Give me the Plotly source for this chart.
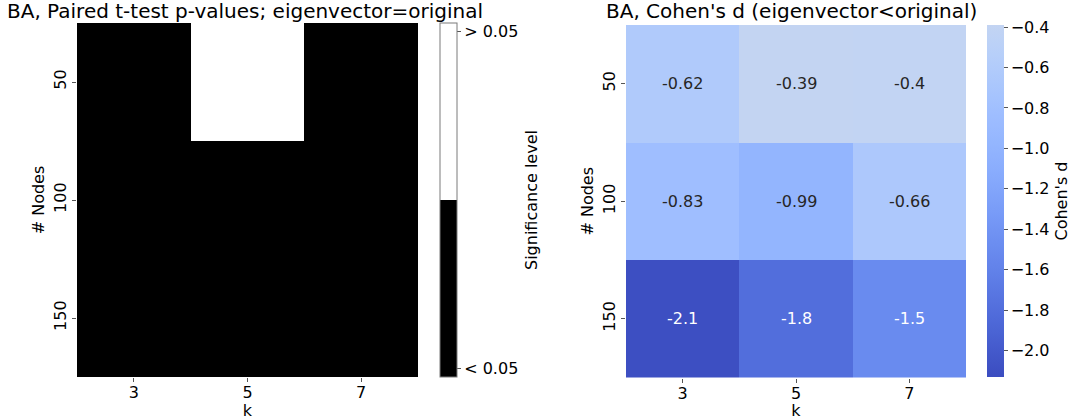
import numpy as np
import plotly.graph_objects as go

# ---- data -------------------------------------------------------------
k_values = ["3", "5", "7"]
node_counts = ["50", "100", "150"]

# paired t-test: True where p < 0.05 (eigenvector vs original)
significant = [
    [True, False, True],
    [True, True, True],
    [True, True, True],
]

# Cohen's d (eigenvector < original)
cohens_d = [
    [-0.62, -0.39, -0.40],
    [-0.83, -0.99, -0.66],
    [-2.10, -1.80, -1.50],
]
d_range = (-2.13, -0.39)
d_ticks = [-0.4, -0.6, -0.8, -1.0, -1.2, -1.4, -1.6, -1.8, -2.0]

sig_tick_labels = ["< 0.05", "> 0.05"]

# ---- styling ------------------------------------------------------------
W, H = 1075, 420
FONT = "DejaVu Sans"
TXT = "#000000"

# coolwarm (lower half) anchors
cw_pos = [0.0, 0.0625, 0.125, 0.1875, 0.25, 0.3125, 0.375, 0.4375, 0.5]
cw_rgb = np.array([
    (59, 76, 192), (77, 104, 215), (98, 130, 234), (119, 154, 247),
    (141, 176, 254), (161, 192, 255), (183, 207, 249), (205, 217, 236),
    (221, 221, 221),
], dtype=float)


def coolwarm(t):
    return np.array([np.interp(t, cw_pos, cw_rgb[:, i]) for i in range(3)])


# centred at 0: map values onto coolwarm symmetric around 0
vr = max(abs(d_range[0]), abs(d_range[1]))


def d_to_t(v):
    return (v + vr) / (2 * vr)


t_lo, t_hi = d_to_t(d_range[0]), d_to_t(d_range[1])
n = 24
d_scale = []
for i in range(n + 1):
    f = i / n
    c = coolwarm(t_lo + f * (t_hi - t_lo))
    d_scale.append([f, "rgb(%d,%d,%d)" % tuple(np.round(c))])


def text_color(v):
    c = coolwarm(d_to_t(v)) / 255.0
    lin = np.where(c <= 0.03928, c / 12.92, ((c + 0.055) / 1.055) ** 2.4)
    lum = 0.2126 * lin[0] + 0.7152 * lin[1] + 0.0722 * lin[2]
    return "#262626" if lum > 0.408 else "#ffffff"


def px_x(p):
    return p / W


def px_y(p):
    return 1 - p / H


fig = go.Figure()

# left: significance map
sig_z = [[0 if s else 1 for s in row] for row in significant]
fig.add_trace(go.Heatmap(
    x=k_values, y=node_counts, z=sig_z, xaxis="x", yaxis="y",
    zmin=0, zmax=1,
    colorscale=[[0, "#000000"], [0.5, "#000000"], [0.5, "#ffffff"], [1, "#ffffff"]],
    hoverinfo="skip",
    colorbar=dict(
        x=px_x(440), xanchor="left", xpad=0,
        y=px_y(200), yanchor="middle", ypad=0,
        len=(377 - 23) / H, lenmode="fraction",
        thickness=17, thicknessmode="pixels",
        outlinewidth=1, outlinecolor="#7a7a7a",
        tickvals=[0.025, 0.975], ticktext=sig_tick_labels,
        ticks="outside", ticklen=4, tickcolor="#555555",
        tickfont=dict(family=FONT, size=16, color=TXT),
    ),
))

# right: effect size map
fig.add_trace(go.Heatmap(
    x=k_values, y=node_counts, z=cohens_d, xaxis="x2", yaxis="y2",
    zmin=d_range[0], zmax=d_range[1], colorscale=d_scale,
    hoverinfo="skip",
    colorbar=dict(
        x=px_x(987), xanchor="left", xpad=0,
        y=px_y(201), yanchor="middle", ypad=0,
        len=(377 - 25) / H, lenmode="fraction",
        thickness=17, thicknessmode="pixels",
        outlinewidth=0,
        tickvals=d_ticks, tickformat=".1f",
        ticks="outside", ticklen=4, tickcolor="#555555",
        tickfont=dict(family=FONT, size=16, color=TXT),
        title=dict(text="Cohen's d", side="right",
                   font=dict(family=FONT, size=16, color=TXT)),
    ),
))

# value labels, placed by category index on the right-hand axes
annotations = []
for r in range(len(node_counts)):
    for c in range(len(k_values)):
        v = cohens_d[r][c]
        annotations.append(dict(
            x=c, y=r, xref="x2", yref="y2", showarrow=False,
            text=("%.2g" % v), font=dict(family=FONT, size=16, color=text_color(v)),
        ))

# colour bar label for the significance map
annotations.append(dict(
    x=px_x(531), y=px_y(200), xref="paper", yref="paper",
    xanchor="center", yanchor="middle", showarrow=False, textangle=-90,
    text="Significance level", font=dict(family=FONT, size=16, color=TXT),
))

annotations.append(dict(
    x=(px_x(77) + px_x(418)) / 2 - 3 / W, y=px_y(25), xref="paper", yref="paper",
    xanchor="center", yanchor="bottom", showarrow=False,
    text="BA, Paired t-test p-values; eigenvector=original",
    font=dict(family=FONT, size=20, color=TXT),
))
annotations.append(dict(
    x=(px_x(626) + px_x(966)) / 2 - 5 / W, y=px_y(25), xref="paper", yref="paper",
    xanchor="center", yanchor="bottom", showarrow=False,
    text="BA, Cohen's d (eigenvector<original)",
    font=dict(family=FONT, size=20, color=TXT),
))

ax_common = dict(
    showgrid=False, zeroline=False, showline=False,
    ticks="outside", ticklen=4, tickcolor="#555555",
    tickfont=dict(family=FONT, size=16, color=TXT),
    type="category",
)

fig.update_layout(
    width=W, height=H,
    margin=dict(l=0, r=0, t=0, b=0, autoexpand=False),
    paper_bgcolor="white", plot_bgcolor="white",
    font=dict(family=FONT, size=16, color=TXT),
    xaxis=dict(domain=[px_x(77), px_x(418)], anchor="y", ticklabelstandoff=-3,
               title=dict(text="k", standoff=0, font=dict(family=FONT, size=16)),
               **ax_common),
    yaxis=dict(domain=[px_y(377), px_y(23)], anchor="x", autorange="reversed",
               tickangle=-90,
               title=dict(text="# Nodes", standoff=1, font=dict(family=FONT, size=16)),
               **ax_common),
    xaxis2=dict(domain=[px_x(626), px_x(966)], anchor="y2", ticklabelstandoff=-3,
                title=dict(text="k", standoff=0, font=dict(family=FONT, size=16)),
                **ax_common),
    yaxis2=dict(domain=[px_y(377.5), px_y(25)], anchor="x2", autorange="reversed",
                tickangle=-90,
                title=dict(text="# Nodes", standoff=1, font=dict(family=FONT, size=16)),
                **ax_common),
    annotations=annotations,
)

fig.write_html("out.html")
